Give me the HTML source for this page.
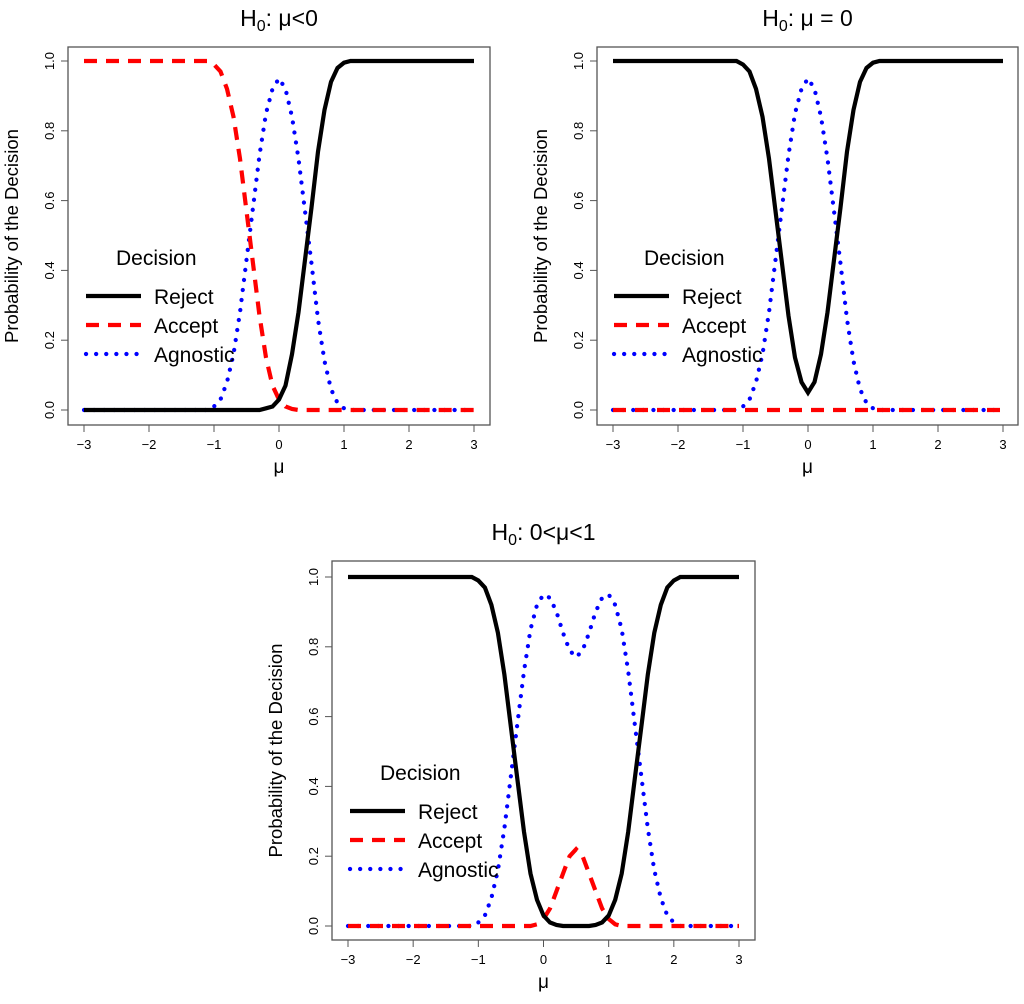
<!DOCTYPE html>
<html><head><meta charset="utf-8"><style>
body{margin:0;background:#fff}
svg text{font-family:"Liberation Sans",sans-serif}
</style></head><body>
<svg id="c" width="1024" height="999" xmlns="http://www.w3.org/2000/svg"></svg>
<script>
const muX=[-3,-1.5,-1.4,-1.3,-1.2,-1.1,-1.0,-0.9,-0.8,-0.7,-0.6,-0.5,-0.4,-0.3,-0.2,-0.1,0,0.1,0.2,0.3,0.4,0.5,0.6,0.7,0.8,0.9,1.0,1.1,1.2,1.3,1.4,1.5,1.6,1.7,1.8,1.9,2.0,2.1,2.2,2.5,3];
const p1Reject=[0,0,0,0,0,0,0,0,0,0,0,0,0,0,0.005,0.01,0.03,0.07,0.16,0.28,0.43,0.58,0.74,0.86,0.94,0.98,0.995,1,1,1,1,1,1,1,1,1,1,1,1,1,1];
const p1Accept=[1,1,1,1,1,1,0.99,0.97,0.92,0.84,0.72,0.57,0.42,0.27,0.15,0.07,0.03,0.01,0.003,0,0,0,0,0,0,0,0,0,0,0,0,0,0,0,0,0,0,0,0,0,0];
const p1Agnostic=[0,0,0,0,0,0,0.01,0.03,0.08,0.16,0.28,0.43,0.58,0.73,0.85,0.92,0.95,0.92,0.84,0.72,0.57,0.42,0.26,0.14,0.06,0.02,0.005,0,0,0,0,0,0,0,0,0,0,0,0,0,0];
const p2Reject=[1,1,1,1,1,1,0.99,0.97,0.92,0.84,0.72,0.57,0.42,0.27,0.15,0.08,0.05,0.08,0.16,0.28,0.43,0.58,0.74,0.86,0.94,0.98,0.995,1,1,1,1,1,1,1,1,1,1,1,1,1,1];
const p2Accept=[0,0,0,0,0,0,0,0,0,0,0,0,0,0,0,0,0,0,0,0,0,0,0,0,0,0,0,0,0,0,0,0,0,0,0,0,0,0,0,0,0];
const p2Agnostic=[0,0,0,0,0,0,0.01,0.03,0.08,0.16,0.28,0.43,0.58,0.73,0.85,0.92,0.95,0.92,0.84,0.72,0.57,0.42,0.26,0.14,0.06,0.02,0.005,0,0,0,0,0,0,0,0,0,0,0,0,0,0];
const p3Reject=[1,1,1,1,1,1,0.99,0.97,0.92,0.84,0.72,0.57,0.42,0.27,0.15,0.075,0.03,0.01,0.003,0,0,0,0,0,0.003,0.01,0.03,0.075,0.15,0.27,0.42,0.57,0.72,0.84,0.92,0.97,0.99,1,1,1,1];
const p3Accept=[0,0,0,0,0,0,0,0,0,0,0,0,0,0,0,0.005,0.02,0.05,0.1,0.15,0.2,0.22,0.2,0.15,0.1,0.05,0.02,0.005,0,0,0,0,0,0,0,0,0,0,0,0,0];
const p3Agnostic=[0,0,0,0,0,0,0.01,0.03,0.08,0.16,0.28,0.43,0.58,0.73,0.85,0.92,0.95,0.94,0.9,0.84,0.79,0.77,0.79,0.84,0.9,0.94,0.95,0.92,0.85,0.73,0.58,0.43,0.28,0.16,0.08,0.03,0.01,0,0,0,0];
const xTicks=[-3,-2,-1,0,1,2,3];
const yTicks=[0,0.2,0.4,0.6,0.8,1.0];
const yTickLabels=["0.0","0.2","0.4","0.6","0.8","1.0"];

const svg=document.getElementById('c');
const NS='http://www.w3.org/2000/svg';
function el(tag,attrs,parent){const e=document.createElementNS(NS,tag);for(const k in attrs)e.setAttribute(k,attrs[k]);(parent||svg).appendChild(e);return e;}

function panel(id,box,x0,x3,y1,y0,title,sub,series,legend){
  const g=el('g',{});
  
  
  const sx=v=>x0+(v+3)*(x3-x0)/6;
  const sy=v=>y0-v*(y0-y1);
  const fr=el('rect',{x:box[0],y:box[1],width:box[2]-box[0],height:box[3]-box[1],fill:'none',stroke:'#555','stroke-width':1.3},g);
  
  
  const t=el('text',{x:(box[0]+box[2])/2,y:box[1]-21,'text-anchor':'middle','font-size':23},g);
  
  
  t.innerHTML='H<tspan font-size="16" dy="5">0</tspan><tspan dy="-5">: '+title+'</tspan>';
  xTicks.forEach(v=>{
    el('line',{x1:sx(v),x2:sx(v),y1:box[3],y2:box[3]+7,stroke:'#555'},g);
    const tl=el('text',{x:sx(v),y:box[3]+24,'text-anchor':'middle','font-size':13},g);
    
    
    tl.textContent=v<0?'\u2212'+(-v):String(v);
  });
  yTicks.forEach((v,i)=>{
    el('line',{x1:box[0],x2:box[0]-7,y1:sy(v),y2:sy(v),stroke:'#555'},g);
    const tl=el('text',{x:box[0]-14,y:sy(v),'text-anchor':'middle','font-size':13,transform:`rotate(-90 ${box[0]-14} ${sy(v)})`},g);
    
    
    tl.textContent=yTickLabels[i];
  });
  const xl=el('text',{x:(box[0]+box[2])/2,y:box[3]+48,'text-anchor':'middle','font-size':19},g);
  
  
  xl.textContent='\u03bc';
  const yx=box[0]-50, yy=(box[1]+box[3])/2;
  const yl=el('text',{x:yx,y:yy,'text-anchor':'middle','font-size':18.5,transform:`rotate(-90 ${yx} ${yy})`},g);
  
  
  yl.textContent='Probability of the Decision';
  const styles={Reject:{stroke:'#000','stroke-width':4.2},Accept:{stroke:'#f00','stroke-width':4.2,'stroke-dasharray':'13,9'},Agnostic:{stroke:'#00f','stroke-width':4.2,'stroke-dasharray':'0.1,10','stroke-linecap':'round'}};
  const order=['Agnostic','Accept','Reject'];
  order.forEach(name=>{
    const vals=series[name];
    const d=muX.map((x,i)=>(i?'L':'M')+sx(x).toFixed(1)+','+sy(vals[i]).toFixed(1)).join('');
    const p=el('path',Object.assign({d,fill:'none'},styles[name]),g);
    
    
  });
  const [lx,ly]=legend;
  const lt=el('text',{x:lx+30,y:ly,'font-size':21},g);
  
  
  lt.textContent='Decision';
  ['Reject','Accept','Agnostic'].forEach((n,i)=>{
    const yy2=ly+31+i*29;
    el('line',Object.assign({x1:lx,x2:lx+55,y1:yy2,y2:yy2},styles[n]),g);
    const tx=el('text',{x:lx+68,y:yy2+8,'font-size':21},g);
    
    
    tx.textContent=n;
  });
}
panel('panel-mu-less-0',[68,47,490,425],84,474,61,410,'\u03bc<0','',{Reject:p1Reject,Accept:p1Accept,Agnostic:p1Agnostic},[86,265]);
panel('panel-mu-equal-0',[597,47,1018,425],613,1003,61,410,'\u03bc = 0','',{Reject:p2Reject,Accept:p2Accept,Agnostic:p2Agnostic},[614,265]);
panel('panel-mu-between-0-1',[332,561,755,940],348,739,577,926,'0<\u03bc<1','',{Reject:p3Reject,Accept:p3Accept,Agnostic:p3Agnostic},[350,780]);
</script>
</body></html>
